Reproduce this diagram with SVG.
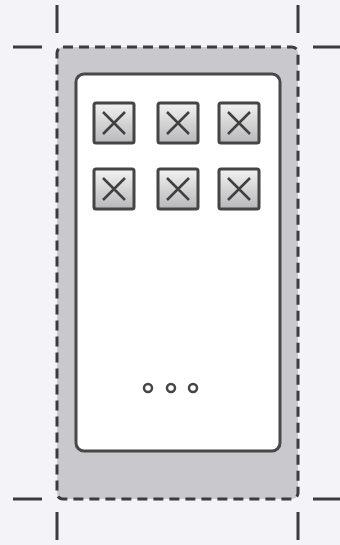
<svg xmlns="http://www.w3.org/2000/svg" width="340" height="545" viewBox="0 0 340 545">
<style>
.tick{stroke:#3c3c3e;stroke-width:3;fill:none}
.icon rect{stroke:#454547;stroke-width:3;fill:url(#ig)}
.icon path{stroke:#404042;stroke-width:2.5;fill:none}
.dot{fill:none;stroke:#454547;stroke-width:2.5}
</style>
<defs>
<linearGradient id="ig" x1="0" y1="0" x2="0" y2="1">
<stop offset="0" stop-color="#f2f2f2"/>
<stop offset="1" stop-color="#b8b8ba"/>
</linearGradient>
</defs>
<rect width="340" height="545" fill="#f4f3f7"/>
<g id="ticks">
<line class="tick" x1="57" y1="5" x2="57" y2="33"/>
<line class="tick" x1="298" y1="5" x2="298" y2="33"/>
<line class="tick" x1="13" y1="47" x2="42" y2="47"/>
<line class="tick" x1="313" y1="47" x2="340" y2="47"/>
<line class="tick" x1="13" y1="499" x2="42" y2="499"/>
<line class="tick" x1="313" y1="499" x2="340" y2="499"/>
<line class="tick" x1="57" y1="512" x2="57" y2="540"/>
<line class="tick" x1="298" y1="512" x2="298" y2="540"/>
</g>
<g id="frame">
<rect x="57" y="47" width="241" height="452" rx="6" fill="#c9c9cd" stroke="#3c3c3e" stroke-width="3" stroke-dasharray="10,6"/>
</g>
<g id="screen">
<rect x="76" y="74" width="204" height="377" rx="8" fill="#ffffff" stroke="#48484a" stroke-width="3"/>
</g>
<g id="icon1" class="icon"><rect x="94" y="103" width="40" height="40" rx="2"/><path d="M103 112 L125 134 M125 112 L103 134"/></g>
<g id="icon2" class="icon"><rect x="158" y="103" width="40" height="40" rx="2"/><path d="M167 112 L189 134 M189 112 L167 134"/></g>
<g id="icon3" class="icon"><rect x="219" y="103" width="40" height="40" rx="2"/><path d="M228 112 L250 134 M250 112 L228 134"/></g>
<g id="icon4" class="icon"><rect x="94" y="169" width="40" height="40" rx="2"/><path d="M103 178 L125 200 M125 178 L103 200"/></g>
<g id="icon5" class="icon"><rect x="158" y="169" width="40" height="40" rx="2"/><path d="M167 178 L189 200 M189 178 L167 200"/></g>
<g id="icon6" class="icon"><rect x="219" y="169" width="40" height="40" rx="2"/><path d="M228 178 L250 200 M250 178 L228 200"/></g>
<g id="more">
<circle class="dot" cx="148" cy="388" r="4"/>
<circle class="dot" cx="171" cy="388" r="4"/>
<circle class="dot" cx="193" cy="388" r="4"/>
</g>
</svg>
